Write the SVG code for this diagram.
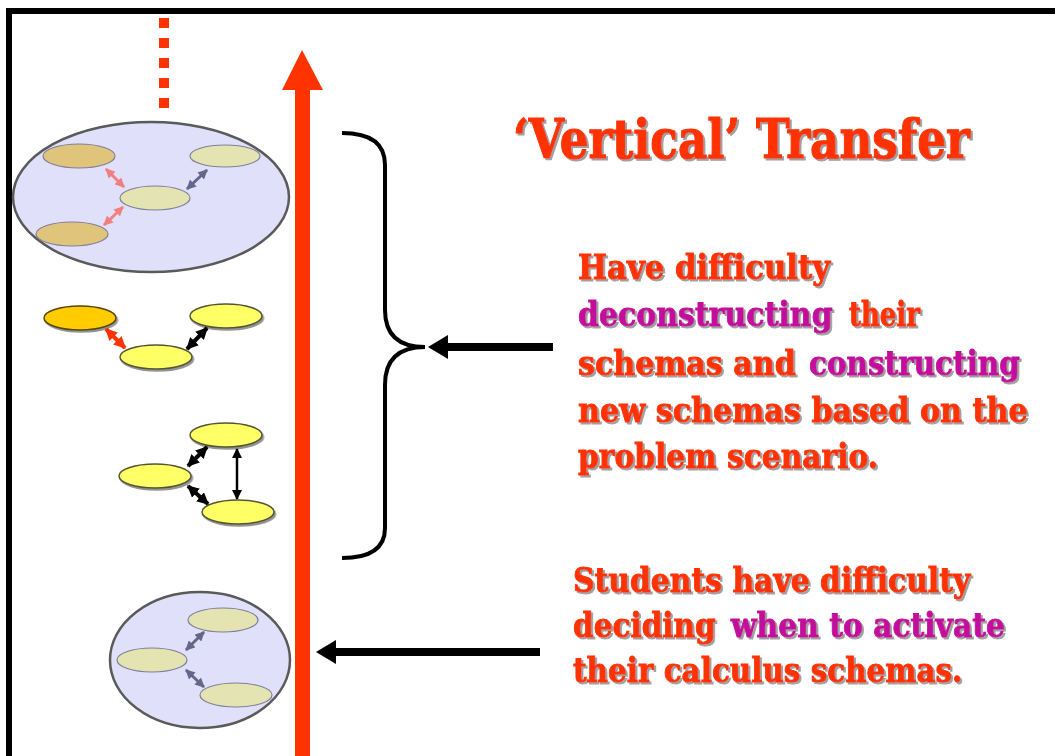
<svg xmlns="http://www.w3.org/2000/svg" width="1055" height="756" viewBox="0 0 1055 756">
<style>
.bigdisk{fill:#e0e0fb;stroke:#5a5a5a;stroke-width:2.5}
.tan{fill:#e0c47c;stroke:#7f7f9a;stroke-width:1.2}
.pale{fill:#e4e4b2;stroke:#7f7f9a;stroke-width:1.2}
.yel{fill:#ffff66;stroke:#555533;stroke-width:1.5}
.org{fill:#ffcc00;stroke:#554400;stroke-width:1.5}
.t{font-family:"DejaVu Serif","Liberation Serif",serif;font-weight:bold;fill:#ff3300;stroke:#ff3300;stroke-width:0.9}
.m{fill:#c4109c;stroke:#c4109c}
.body{font-size:34px}
.title{font-size:55px;stroke-width:1.2}
</style>
<defs>
<filter id="sh" x="-5%" y="-20%" width="110%" height="140%">
<feDropShadow dx="2" dy="2" stdDeviation="0.6" flood-color="#888888" flood-opacity="0.8"/>
</filter>
<filter id="esh" x="-10%" y="-20%" width="120%" height="150%">
<feDropShadow dx="1.5" dy="2" stdDeviation="0.5" flood-color="#777777" flood-opacity="0.8"/>
</filter>
<marker id="mp" viewBox="0 0 10 10" refX="9" refY="5" markerWidth="3.2" markerHeight="3.2" orient="auto-start-reverse"><path d="M0,0 L10,5 L0,10 z" fill="#f08080"/></marker>
<marker id="mg" viewBox="0 0 10 10" refX="9" refY="5" markerWidth="3.2" markerHeight="3.2" orient="auto-start-reverse"><path d="M0,0 L10,5 L0,10 z" fill="#666688"/></marker>
<marker id="mk" viewBox="0 0 10 10" refX="9" refY="5" markerWidth="3" markerHeight="3" orient="auto-start-reverse"><path d="M0,0 L10,5 L0,10 z" fill="#000"/></marker>
<marker id="mk2" viewBox="0 0 10 10" refX="9" refY="5" markerWidth="4" markerHeight="4" orient="auto-start-reverse"><path d="M0,0 L10,5 L0,10 z" fill="#000"/></marker>
<marker id="mr" viewBox="0 0 10 10" refX="9" refY="5" markerWidth="3" markerHeight="3" orient="auto-start-reverse"><path d="M0,0 L10,5 L0,10 z" fill="#ff3300"/></marker>
</defs>
<rect width="1055" height="756" fill="#ffffff"/>
<path d="M9,756 V11 H1055" fill="none" stroke="#000" stroke-width="6"/>

<g id="dotted-line"><line x1="164" y1="18" x2="164" y2="108" stroke="#ff3300" stroke-width="10" stroke-dasharray="10 10"/></g>

<g id="vertical-arrow">
<rect x="295" y="88" width="15" height="668" fill="#ff3300"/>
<polygon points="302,50 282,90 323,90" fill="#ff3300"/>
</g>

<g id="schema-top">
<ellipse class="bigdisk" cx="151" cy="197" rx="138" ry="75"/>
<ellipse class="tan" cx="79" cy="156" rx="36" ry="12"/>
<ellipse class="pale" cx="225" cy="156" rx="35" ry="11"/>
<ellipse class="pale" cx="155" cy="198" rx="35" ry="12"/>
<ellipse class="tan" cx="72" cy="234" rx="36" ry="12"/>
</g>

<g id="schema-middle">
<ellipse class="org" filter="url(#esh)" cx="80" cy="318" rx="36" ry="12"/>
<ellipse class="yel" filter="url(#esh)" cx="226" cy="316" rx="36" ry="12"/>
<ellipse class="yel" filter="url(#esh)" cx="156" cy="357" rx="36" ry="12"/>
</g>

<g id="schema-lower">
<ellipse class="yel" filter="url(#esh)" cx="226" cy="435" rx="36" ry="12"/>
<ellipse class="yel" filter="url(#esh)" cx="155" cy="476" rx="36" ry="12"/>
<ellipse class="yel" filter="url(#esh)" cx="238" cy="512" rx="36" ry="12"/>
</g>

<g id="schema-bottom">
<ellipse class="bigdisk" cx="200" cy="660" rx="90" ry="68"/>
<ellipse class="pale" cx="223" cy="620" rx="35" ry="12"/>
<ellipse class="pale" cx="152" cy="660" rx="35" ry="12"/>
<ellipse class="pale" cx="236" cy="695" rx="36" ry="12"/>
</g>

<g id="connectors" fill="none">
<line x1="106" y1="169" x2="124" y2="187" stroke="#f08080" stroke-width="3" marker-start="url(#mp)" marker-end="url(#mp)"/>
<line x1="104" y1="225" x2="123" y2="207" stroke="#f08080" stroke-width="3" marker-start="url(#mp)" marker-end="url(#mp)"/>
<line x1="207" y1="170" x2="187" y2="189" stroke="#666688" stroke-width="3" marker-start="url(#mg)" marker-end="url(#mg)"/>
<line x1="106" y1="329" x2="125" y2="348" stroke="#ff3300" stroke-width="4" marker-start="url(#mr)" marker-end="url(#mr)"/>
<line x1="207" y1="328" x2="187" y2="349" stroke="#000" stroke-width="4" marker-start="url(#mk)" marker-end="url(#mk)"/>
<line x1="207" y1="447" x2="188" y2="466" stroke="#000" stroke-width="4" marker-start="url(#mk)" marker-end="url(#mk)"/>
<line x1="188" y1="486" x2="208" y2="504" stroke="#000" stroke-width="4" marker-start="url(#mk)" marker-end="url(#mk)"/>
<line x1="237" y1="449" x2="237" y2="499" stroke="#000" stroke-width="2.5" marker-start="url(#mk2)" marker-end="url(#mk2)"/>
<line x1="186" y1="650" x2="204" y2="632" stroke="#666688" stroke-width="3" marker-start="url(#mg)" marker-end="url(#mg)"/>
<line x1="186" y1="670" x2="204" y2="687" stroke="#666688" stroke-width="3" marker-start="url(#mg)" marker-end="url(#mg)"/>
<path d="M342,133 Q385,133 385,165 V310 Q385,347 425,347 Q385,347 385,385 V528 Q385,558 342,558" stroke="#000" stroke-width="4"/>
<line x1="553" y1="347" x2="444" y2="347" stroke="#000" stroke-width="8"/>
<polygon points="428,347 448,335 448,359" fill="#000"/>
<line x1="540" y1="652" x2="332" y2="652" stroke="#000" stroke-width="8"/>
<polygon points="316,652 336,640 336,664" fill="#000"/>
</g>

<g id="title" filter="url(#sh)">
<text class="t title" transform="translate(513,158) scale(0.8,1)" x="0" y="0" textLength="571" lengthAdjust="spacingAndGlyphs">‘Vertical’ Transfer</text>
</g>

<g id="label-brace" filter="url(#sh)">
<text class="t body" transform="translate(578,279) scale(0.875,1)" x="0" y="0" textLength="288" lengthAdjust="spacingAndGlyphs">Have difficulty</text>
<text class="t body m" transform="translate(578,326) scale(0.875,1)" x="0" y="0" textLength="291" lengthAdjust="spacingAndGlyphs">deconstructing</text>
<text class="t body" transform="translate(849,326) scale(0.875,1)" x="0" y="0" textLength="81" lengthAdjust="spacingAndGlyphs">their</text>
<text class="t body" transform="translate(578,375) scale(0.875,1)" x="0" y="0" textLength="249" lengthAdjust="spacingAndGlyphs">schemas and</text>
<text class="t body m" transform="translate(809,375) scale(0.875,1)" x="0" y="0" textLength="241" lengthAdjust="spacingAndGlyphs">constructing</text>
<text class="t body" transform="translate(578,422) scale(0.875,1)" x="0" y="0" textLength="514" lengthAdjust="spacingAndGlyphs">new schemas based on the</text>
<text class="t body" transform="translate(578,468) scale(0.875,1)" x="0" y="0" textLength="343" lengthAdjust="spacingAndGlyphs">problem scenario.</text>
</g>

<g id="label-bottom" filter="url(#sh)">
<text class="t body" transform="translate(573,592) scale(0.875,1)" x="0" y="0" textLength="454" lengthAdjust="spacingAndGlyphs">Students have difficulty</text>
<text class="t body" transform="translate(573,637) scale(0.875,1)" x="0" y="0" textLength="163" lengthAdjust="spacingAndGlyphs">deciding</text>
<text class="t body m" transform="translate(731,637) scale(0.875,1)" x="0" y="0" textLength="313" lengthAdjust="spacingAndGlyphs">when to activate</text>
<text class="t body" transform="translate(573,682) scale(0.875,1)" x="0" y="0" textLength="445" lengthAdjust="spacingAndGlyphs">their calculus schemas.</text>
</g>
</svg>
